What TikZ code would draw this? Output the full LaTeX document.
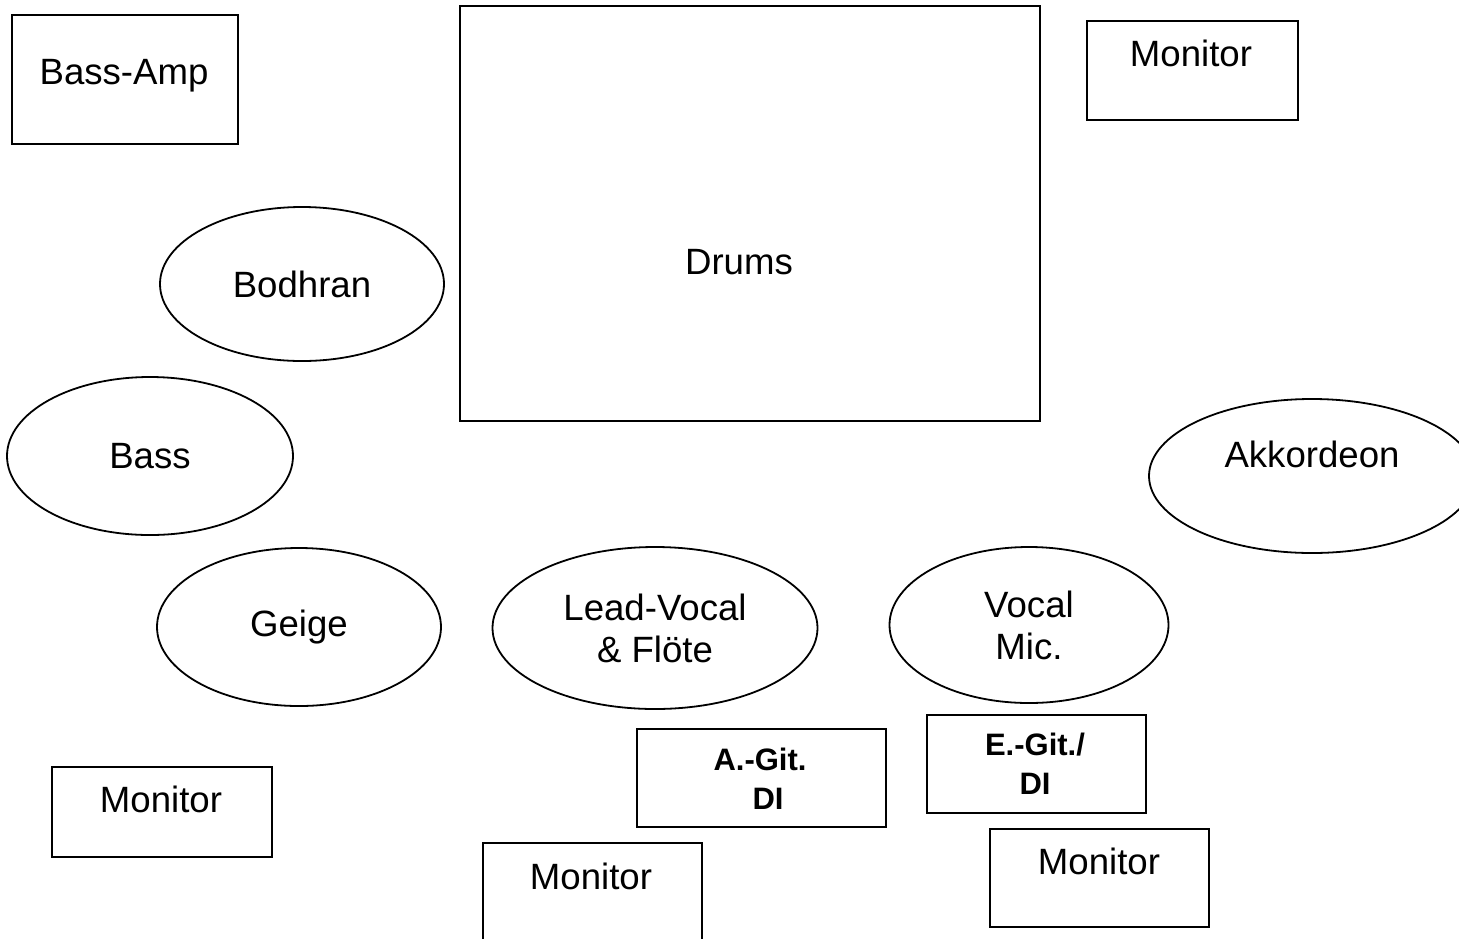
\documentclass[tikz,border=0pt]{standalone}
\usepackage{fontspec}
\setmainfont{Liberation Sans}
\usetikzlibrary{shapes.geometric}

\begin{document}
\begin{tikzpicture}[x=1pt, y=-1pt,
    box/.style={rectangle, draw=black, line width=1.8pt, inner sep=0pt,
        anchor=north west},
    player/.style={ellipse, draw=black, line width=1.8pt, inner sep=0pt,
        align=center, font=\fontsize{36.6}{42}\selectfont},
    tag/.style={inner sep=0pt, align=center,
        font=\fontsize{36.6}{42}\selectfont},
    ditag/.style={inner sep=0pt, align=center,
        font=\fontsize{31}{39}\selectfont\bfseries}
]
    \clip (0,0) rectangle (1459,938);
    \fill[white] (0,0) rectangle (1459,938);
    % backline
    \node[box, minimum width=226, minimum height=129] (bassamp) at (11,14) {};
    \node[tag] (bassamp-l) at (124,76) {Bass-Amp};
    \node[box, minimum width=580, minimum height=415] (drums) at (459,5) {};
    \node[tag] (drums-l) at (739,262) {Drums};
    \node[box, minimum width=211, minimum height=99] (mon-a) at (1086,20) {};
    \node[tag] (mon-a-l) at (1191,53) {Monitor};
    % players
    \node[player, minimum width=284, minimum height=154] (bodhran) at (302,284) {Bodhran};
    \node[player, minimum width=286, minimum height=158] (bass) at (150,456) {Bass};
    \node[player, minimum width=326, minimum height=154] (akk) at (1312,476) {};
    \node[tag] (akk-l) at (1312,454) {Akkordeon};
    \node[player, minimum width=284, minimum height=158] (geige) at (299,627) {Geige};
    \node[player, minimum width=325, minimum height=162] (lead) at (655,628) {Lead-Vocal\\\& Flöte};
    \node[player, minimum width=279, minimum height=156] (vocal) at (1029,625) {Vocal\\Mic.};
    % DI boxes
    \node[box, minimum width=249, minimum height=98] (adi) at (636,728) {};
    \node[ditag] (adi-l) at (760,779) {A.-Git.\\\hspace*{16pt}DI};
    \node[box, minimum width=219, minimum height=98] (edi) at (926,714) {};
    \node[ditag] (edi-l) at (1035,764) {E.-Git./\\DI};
    % front monitors
    \node[box, minimum width=220, minimum height=90] (mon-b) at (51,766) {};
    \node[tag] (mon-b-l) at (161,799) {Monitor};
    \node[box, minimum width=219, minimum height=130] (mon-c) at (482,842) {};
    \node[tag] (mon-c-l) at (591,876) {Monitor};
    \node[box, minimum width=219, minimum height=98] (mon-d) at (989,828) {};
    \node[tag] (mon-d-l) at (1099,861) {Monitor};
\end{tikzpicture}
\end{document}
